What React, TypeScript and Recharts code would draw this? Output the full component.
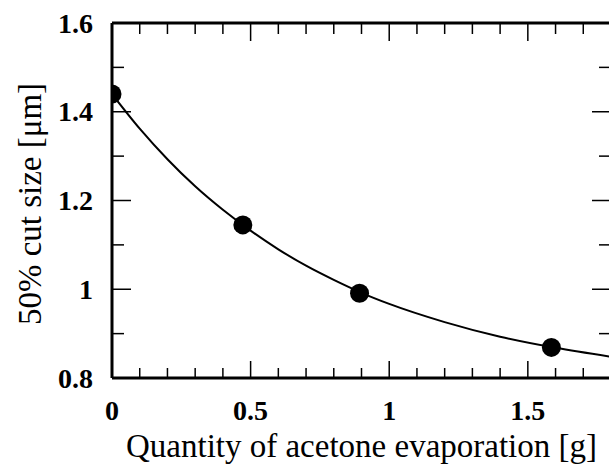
import { ComposedChart, Line, Scatter, XAxis, YAxis, Label } from "recharts";

// measured points
const pointX = [0, 0.472, 0.893, 1.585];
const pointY = [1.44, 1.145, 0.991, 0.869];

// fitted curve
const curveX = [0, 0.1, 0.2, 0.3, 0.4, 0.5, 0.6, 0.7, 0.8, 0.9, 1.0, 1.2, 1.4, 1.6, 1.8];
const curveY = [1.44, 1.362, 1.293, 1.232, 1.179, 1.132, 1.09, 1.053, 1.021, 0.992, 0.967, 0.926, 0.893, 0.868, 0.848];

const xTicks = [0, 0.1, 0.2, 0.3, 0.4, 0.5, 0.6, 0.7, 0.8, 0.9, 1, 1.1, 1.2, 1.3, 1.4, 1.5, 1.6, 1.7, 1.8];
const xMajor = [0, 0.5, 1, 1.5];
const xLabels = ["0", "0.5", "1", "1.5"];
const yTicks = [0.8, 0.9, 1, 1.1, 1.2, 1.3, 1.4, 1.5, 1.6];
const yMajor = [0.8, 1, 1.2, 1.4, 1.6];
const yLabels = ["0.8", "1", "1.2", "1.4", "1.6"];

const xTitle = "Quantity of acetone evaporation [g]";
const yTitle = "50% cut size [μm]";

const FONT = "Liberation Serif";

const points = pointX.map((x, i) => ({ x, y: pointY[i] }));
const curve = curveX.map((x, i) => ({ x, y: curveY[i] }));

const majorIndex = (list: number[], v: number) => list.findIndex((m) => Math.abs(m - v) < 1e-6);

const tickText = { fontFamily: FONT, fontWeight: 700, fontSize: 28, fill: "#000" };

const BottomTick = (props: any) => {
    const { x, y, payload } = props;
    const idx = majorIndex(xMajor, payload.value);
    const len = idx >= 0 ? 17 : 10;
    return <g>
        <line x1={x} x2={x} y1={y} y2={y - len} stroke="#000" strokeWidth={1.5} />
        {idx >= 0 && <text x={x} y={y + 42} textAnchor="middle" style={tickText}>{xLabels[idx]}</text>}
    </g>
}

const TopTick = (props: any) => {
    const { x, y, payload } = props;
    const len = majorIndex(xMajor, payload.value) >= 0 ? 18 : 11;
    return <line x1={x} x2={x} y1={y} y2={y + len} stroke="#000" strokeWidth={1.5} />
}

const LeftTick = (props: any) => {
    const { x, y, payload } = props;
    const idx = majorIndex(yMajor, payload.value);
    const len = idx >= 0 ? 19 : 12;
    return <g>
        <line x1={x} x2={x + len} y1={y} y2={y} stroke="#000" strokeWidth={1.5} />
        {idx >= 0 && <text x={93} y={y + 9.5} textAnchor="end" style={tickText}>{yLabels[idx]}</text>}
    </g>
}

const RightTick = (props: any) => {
    const { x, y, payload } = props;
    const len = majorIndex(yMajor, payload.value) >= 0 ? 19 : 12;
    return <line x1={x} x2={x - len} y1={y} y2={y} stroke="#000" strokeWidth={1.5} />
}

const YTitle = () => (
    <text x={30} y={204} transform="rotate(-90 30 204)" textAnchor="middle" dominantBaseline="central"
        style={{ fontFamily: FONT, fontSize: 33, fill: "#000" }}>{yTitle}</text>
);

const App = () => {
    return <div style={{ position: "absolute", left: 0, top: 0, width: 609, height: 476, overflow: "hidden", background: "#fff" }}>
        <ComposedChart width={620} height={476} margin={{ top: 0, right: 0, bottom: 0, left: 0 }}>
            <XAxis xAxisId={0} dataKey="x" type="number" domain={[0, 1.8]} ticks={xTicks} interval={0}
                allowDataOverflow height={98} tickSize={0} tickMargin={0} tickLine={false}
                axisLine={{ stroke: "#000", strokeWidth: 3 }} tick={<BottomTick />}>
                <Label position="insideBottom" offset={19} value={xTitle}
                    style={{ fontFamily: FONT, fontSize: 33, fill: "#000" }} />
            </XAxis>
            <XAxis xAxisId="top" orientation="top" dataKey="x" type="number" domain={[0, 1.8]} ticks={xTicks} interval={0}
                allowDataOverflow height={23} tickSize={0} tickMargin={0} tickLine={false}
                axisLine={{ stroke: "#000", strokeWidth: 3 }} tick={<TopTick />} />
            <YAxis yAxisId={0} type="number" domain={[0.8, 1.6]} ticks={yTicks} interval={0} allowDataOverflow
                width={112} tickSize={0} tickMargin={0} tickLine={false}
                axisLine={{ stroke: "#000", strokeWidth: 3 }} tick={<LeftTick />}
                label={{ content: () => <YTitle /> }} />
            <YAxis yAxisId="right" orientation="right" type="number" domain={[0.8, 1.6]} ticks={yTicks} interval={0} allowDataOverflow
                width={9} tickSize={0} tickMargin={0} tickLine={false}
                axisLine={{ stroke: "#000", strokeWidth: 3 }} tick={<RightTick />} />
            <Line data={curve} dataKey="y" type="monotone" stroke="#000" strokeWidth={2} dot={false}
                activeDot={false} isAnimationActive={false} />
            <Scatter data={points} dataKey="y" fill="#000" isAnimationActive={false}
                shape={(p: any) => <circle cx={p.cx} cy={p.cy} r={9.5} fill="#000" />} />
        </ComposedChart>
    </div>
}

export default App;
